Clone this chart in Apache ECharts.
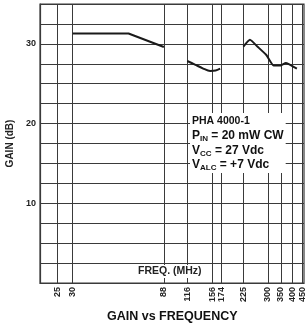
<!DOCTYPE html>
<html>
<head>
<meta charset="utf-8">
<title>GAIN vs FREQUENCY</title>
<script src="https://cdn.jsdelivr.net/npm/echarts@6/dist/echarts.min.js"></script>
<style>
	html, body { margin: 0; padding: 0; background: #fff; }
	#gainChart { width: 307px; height: 324px; }
</style>
</head>
<body>
<div id="gainChart"></div>
<script>
	/* frequency ticks (MHz) */
	var freqTicks = [25, 30, 88, 116, 156, 174, 225, 300, 350, 400, 450];
	var gainLabels = [10, 20, 30];

	/* curve, three bands */
	var band1Freq = [30, 58, 88];
	var band1Gain = [31.3, 31.3, 29.6];
	var band2Freq = [116, 127, 140, 152, 162, 171];
	var band2Gain = [27.85, 27.4, 26.9, 26.6, 26.65, 26.9];
	var band3Freq = [225, 243, 267, 295, 321, 350, 371, 382, 423];
	var band3Gain = [29.65, 30.5, 29.6, 28.6, 27.3, 27.3, 27.6, 27.5, 26.9];

	function pairs(xs, ys) {
		return xs.map(function(x, i) { return [x, ys[i]]; });
	}

	function band(xs, ys, smooth) {
		return {
			type: 'line',
			data: pairs(xs, ys),
			symbol: 'none',
			smooth: smooth,
			lineStyle: { color: '#1a1a1a', width: 2 },
			silent: true
		};
	}

	var font = 'Liberation Sans, Arial, sans-serif';
	var gridColor = '#3a3a3a';

	var gainOption = {
		backgroundColor: '#fff',
		animation: false,
		title: {
			text: 'GAIN vs FREQUENCY',
			left: 102,
			top: 305,
			textStyle: { fontFamily: font, fontSize: 12.5, fontWeight: 'bold', color: '#111' }
		},
		grid: {
			left: 40, right: 3, top: 4, bottom: 41,
			containLabel: false,
			outerBoundsMode: 'none',
			show: true,
			borderColor: gridColor,
			borderWidth: 1.2
		},
		xAxis: {
			type: 'log',
			min: 20.4,
			max: 460,
			axisLine: { show: true, lineStyle: { color: gridColor, width: 1.2 } },
			axisTick: { show: false, customValues: freqTicks },
			axisLabel: {
				customValues: freqTicks,
				rotate: 90,
				margin: 4,
				fontFamily: font,
				fontSize: 9,
				fontWeight: 'bold',
				color: '#222'
			},
			splitLine: { show: true, lineStyle: { color: gridColor, width: 1 } }
		},
		yAxis: {
			type: 'value',
			min: 0,
			max: 35,
			interval: 2.5,
			name: 'GAIN (dB)',
			nameLocation: 'middle',
			nameGap: 23,
			nameTextStyle: { fontFamily: font, fontSize: 10, fontWeight: 'bold', color: '#222' },
			axisLine: { show: true, lineStyle: { color: gridColor, width: 1.2 } },
			axisTick: { show: false },
			axisLabel: {
				margin: 4,
				fontFamily: font,
				fontSize: 9,
				fontWeight: 'bold',
				color: '#222',
				formatter: function(v) {
					return gainLabels.indexOf(v) >= 0 ? String(v) : '';
				}
			},
			splitLine: { show: true, lineStyle: { color: gridColor, width: 1 } }
		},
		graphic: [{
			type: 'text',
			left: 137,
			top: 265,
			z: 10,
			style: {
				text: 'FREQ. (MHz)',
				fontFamily: font,
				fontSize: 10.5,
				fontWeight: 'bold',
				fill: '#222',
				backgroundColor: '#fff',
				padding: [1, 1]
			}
		}, {
			type: 'text',
			left: 190,
			top: 113,
			z: 10,
			style: {
				text: '{h|PHA 4000-1}\n{b|P}{s|IN}{b| = 20 mW CW}\n{b|V}{s|CC}{b| = 27 Vdc}\n{b|V}{s|ALC}{b| = +7 Vdc}',
				backgroundColor: '#fff',
				padding: [1, 2],
				rich: {
					h: { fontFamily: font, fontSize: 10.5, fontWeight: 'bold', fill: '#111', lineHeight: 14.5 },
					b: { fontFamily: font, fontSize: 12, fontWeight: 'bold', fill: '#111', lineHeight: 14.5 },
					s: { fontFamily: font, fontSize: 8, fontWeight: 'bold', fill: '#111', lineHeight: 14.5, verticalAlign: 'bottom' }
				}
			}
		}],
		series: [
			band(band1Freq, band1Gain, false),
			band(band2Freq, band2Gain, 0.3),
			band(band3Freq, band3Gain, 0.15)
		]
	};

	function setInit(id, option) {
		var chart = echarts.init(document.getElementById(id), null, { renderer: 'canvas' });
		chart.setOption(option);
		window.addEventListener('resize', function() {
			chart.resize();
		});
	}

	setInit('gainChart', gainOption);
</script>
</body>
</html>
